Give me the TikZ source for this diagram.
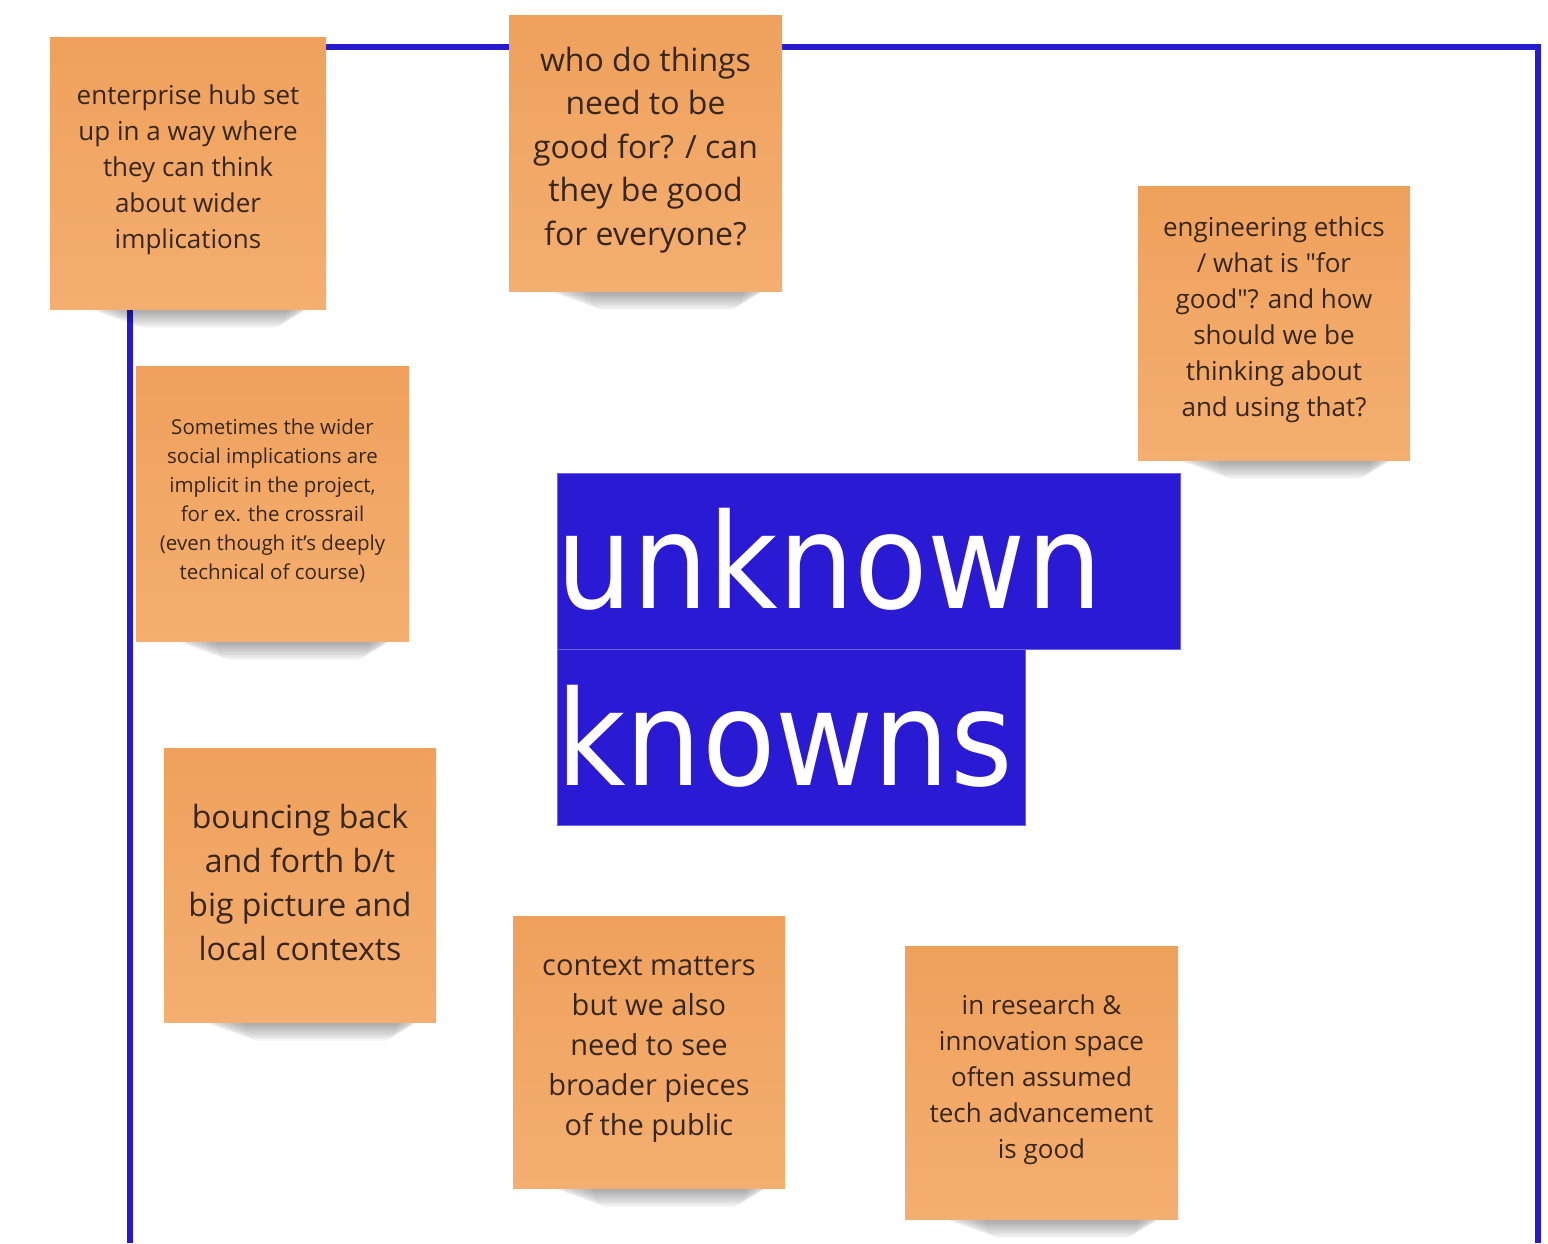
\documentclass[tikz,border=0pt]{standalone}
\usepackage{fontspec}
\setmainfont{Open Sans}
\newfontfamily\rawfont[Ligatures=ResetAll]{Open Sans}
\newfontfamily\bigfont[FakeStretch=0.91]{DejaVu Sans}
\usetikzlibrary{fit}
\definecolor{frameblue}{RGB}{38,28,205}
\definecolor{boxblue}{RGB}{42,26,212}
\definecolor{boxedge}{RGB}{110,100,235}
\definecolor{stickytop}{RGB}{239,161,92}
\definecolor{stickybot}{RGB}{244,174,112}
\definecolor{inktext}{RGB}{55,38,28}
\tikzset{
  frameline/.style={draw=frameblue, line width=2.6pt},
  stickynote/.style={inner sep=0pt, top color=stickytop, bottom color=stickybot, draw=none},
  notetext/.style={align=center, text=inktext, inner sep=0pt},
  bluebox/.style={fill=boxblue, draw=boxedge, line width=0.4pt, inner sep=0pt},
  bigword/.style={text=white, inner sep=0pt, font=\bigfont\fontsize{66}{66}\selectfont, anchor=base west},
}
\newcommand{\postit}[8]{%
  \foreach \k in {0,...,9}{%
    \fill[black, opacity=0.035, rounded corners=8pt] ({#2+35+5*\k},{#5-30}) rectangle ({#4-12-3*\k},{#5+3+1.8*\k});
  }
  \coordinate (#1-nw) at (#2,#3);
  \coordinate (#1-se) at (#4,#5);
  \node[stickynote, fit=(#1-nw)(#1-se)] (#1) {};
  \node[notetext, font=\fontsize{#6}{#7}\selectfont] (#1-text) at ([yshift=1.5pt]#1.center) {#8};
}
\begin{document}
\begin{tikzpicture}[x=0.5pt, y=-0.5pt]
\useasboundingbox[fill=white] (0,0) rectangle (1548,1243);
% frame
\coordinate (fbl) at (130,1243);
\coordinate (ftl) at (130,47);
\coordinate (ftr) at (1538,47);
\coordinate (fbr) at (1538,1243);
\draw[frameline] (fbl) -- (ftl) -- (ftr) -- (fbr);
% title boxes
\coordinate (b1nw) at (557,473);
\coordinate (b1se) at (1180,649);
\coordinate (b2nw) at (557,649);
\coordinate (b2se) at (1025,825);
\node[bluebox, fit=(b1nw)(b1se)] (box1) {};
\node[bluebox, fit=(b2nw)(b2se)] (box2) {};
\node[bigword] (w1) at (556,608) {unknown};
\node[bigword] (w2) at (556,785) {knowns};
% sticky notes
\postit{hub}{50}{37}{326}{309}{13}{18}{enterprise hub set\\up in a way where\\they can think\\about wider\\implications}
\postit{who}{509}{15}{782}{291}{16}{21.7}{who do things\\need to be\\good for? / can\\they be good\\for everyone?}
\postit{ethics}{1138}{186}{1410}{460}{13}{18}{engineering ethics\\/ what is {\rawfont"}for\\good{\rawfont"}? and how\\should we be\\thinking about\\and using that?}
\postit{social}{136}{366}{409}{641}{10.25}{14.5}{Sometimes the wider\\social implications are\\implicit in the project,\\for ex. the crossrail\\(even though it's deeply\\technical of course)}
\postit{bounce}{164}{748}{436}{1022}{16}{22}{bouncing back\\and forth b/t\\big picture and\\local contexts}
\postit{context}{513}{916}{785}{1188}{14.5}{20}{context matters\\but we also\\need to see\\broader pieces\\of the public}
\postit{research}{905}{946}{1178}{1219}{13}{18}{in research \&\\innovation space\\often assumed\\tech advancement\\is good}
\end{tikzpicture}
\end{document}
